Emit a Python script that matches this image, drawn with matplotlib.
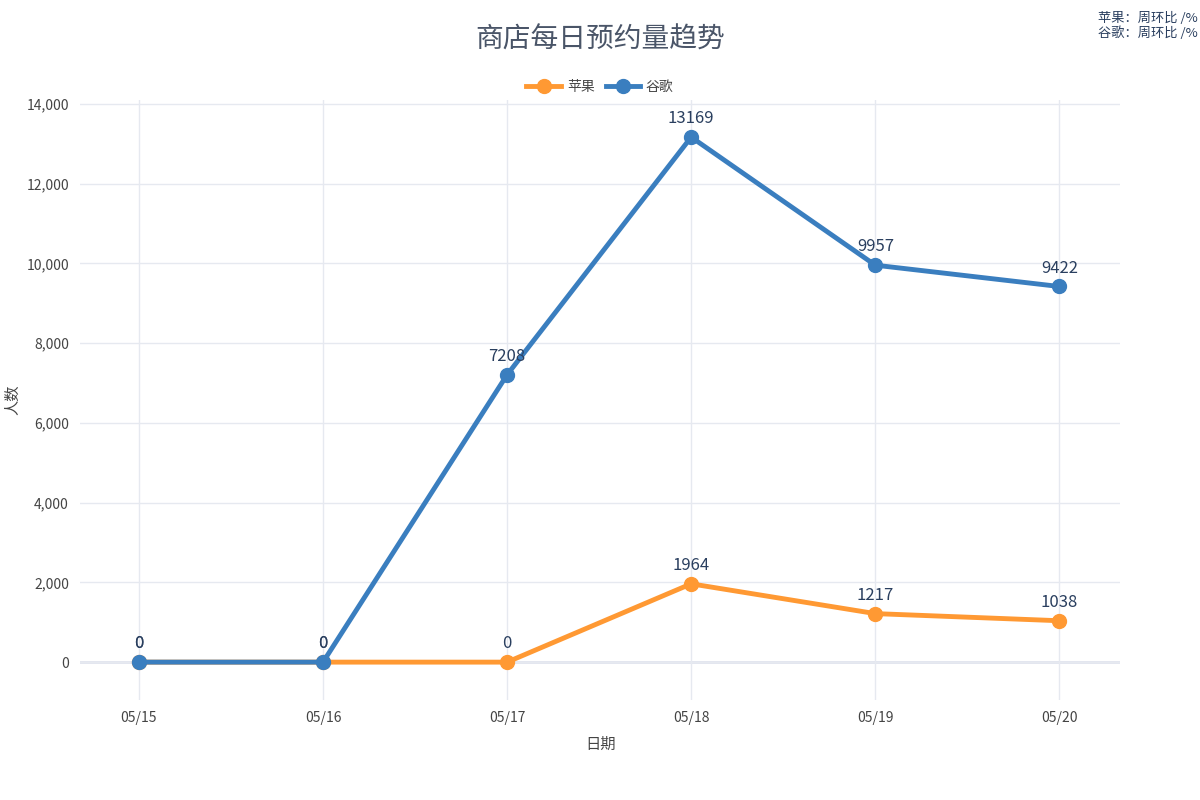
import matplotlib.pyplot as plt
from matplotlib.ticker import FuncFormatter

plt.rcParams['font.family'] = ['Noto Sans CJK SC', 'DejaVu Sans']

dates = ['05/15', '05/16', '05/17', '05/18', '05/19', '05/20']
apple = [0, 0, 0, 1964, 1217, 1038]
google = [0, 0, 7208, 13169, 9957, 9422]
series = [('苹果', apple, '#ff9933'), ('谷歌', google, '#3a7ebf')]

fig = plt.figure(figsize=(12, 8), dpi=100)
ax = fig.add_axes([0.0667, 0.125, 0.8667, 0.75])
x = list(range(len(dates)))

for name, vals, color in series:
    ax.plot(x, vals, color=color, lw=3.5, marker='o', ms=10, label=name, zorder=3)
    for xi, v in zip(x, vals):
        ax.annotate(str(v), (xi, v), xytext=(0, 7), textcoords='offset points',
                    ha='center', va='bottom', fontsize=12, color='#2a3f5f', zorder=4)

ax.set_xlim(-0.32, 5.33)
ax.set_ylim(-950, 14100)
ax.set_xticks(x)
ax.set_xticklabels(dates)
ax.set_yticks(range(0, 14001, 2000))
ax.yaxis.set_major_formatter(FuncFormatter(lambda v, p: f'{int(v):,}'))
ax.grid(color='#e6e9f0', lw=1)
ax.axhline(0, color='#e0e4ee', lw=2, zorder=1)
for s in ax.spines.values():
    s.set_visible(False)
ax.tick_params(length=0, labelsize=10, colors='#444444', pad=8)
ax.set_xlabel('日期', fontsize=11, color='#444444', labelpad=8)
ax.set_ylabel('人数', fontsize=11, color='#444444', labelpad=4)

fig.text(0.5, 0.95, '商店每日预约量趋势', ha='center', va='center', fontsize=20, color='#4a5568')
fig.text(0.998, 0.985, '苹果：周环比 /%\n谷歌：周环比 /%', ha='right', va='top',
         fontsize=9.5, color='#2a3f5f', linespacing=1.1)
ax.legend(loc='lower center', bbox_to_anchor=(0.5, 0.99), ncol=2, frameon=False,
          fontsize=10, handlelength=2.5, columnspacing=0.8, handletextpad=0.4,
          labelcolor='#444444')

fig.savefig('out.png')
